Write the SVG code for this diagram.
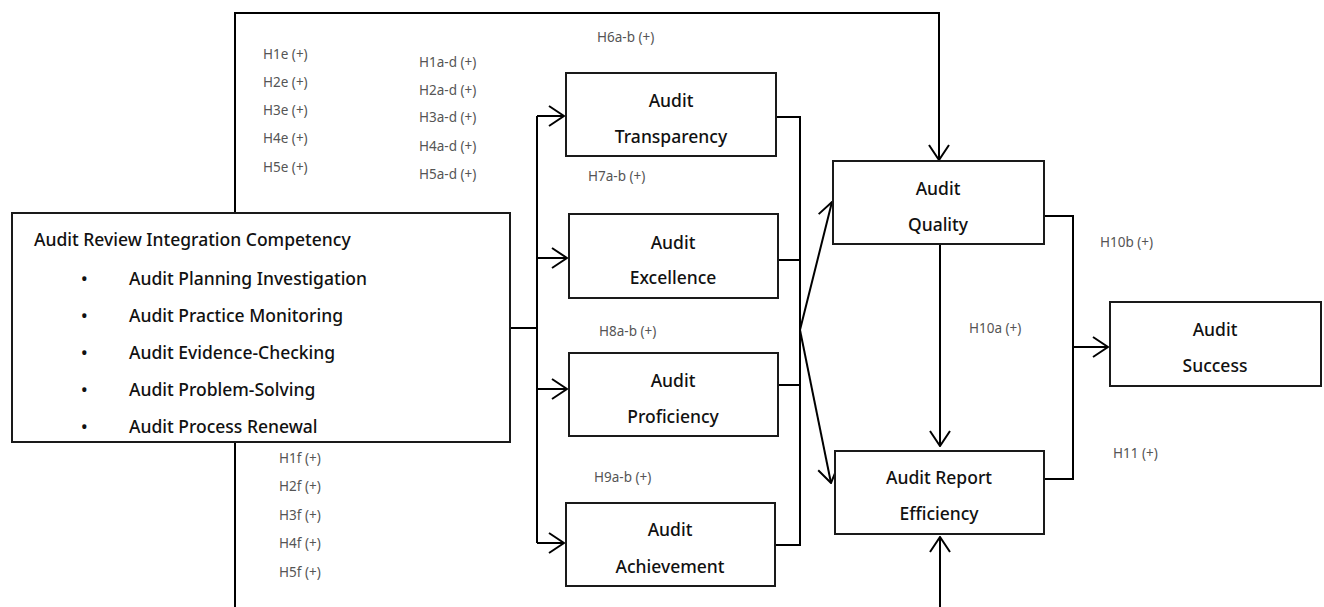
<svg xmlns="http://www.w3.org/2000/svg" width="1324" height="607" viewBox="0 0 1324 607">
<style>
.box{fill:#fff;stroke:#1a1a1a;stroke-width:2}
.nt{font-family:"Noto Sans","Liberation Sans",sans-serif;font-size:17.5px;font-weight:500;fill:#111;text-anchor:middle}
.bt{font-family:"Noto Sans","Liberation Sans",sans-serif;font-size:17.5px;font-weight:500;fill:#111}
.lb{font-family:"Noto Sans","Liberation Sans",sans-serif;font-size:13.5px;fill:#555}
.ln{fill:none;stroke:#000;stroke-width:2}
.ar{fill:none;stroke:#000;stroke-width:2;marker-end:url(#arr)}
</style>
<defs>
<marker id="arr" viewBox="0 0 17 22" refX="16" refY="11" markerWidth="17" markerHeight="22" orient="auto" markerUnits="userSpaceOnUse">
<path d="M1,1 L16,11 L1,21" fill="none" stroke="#000" stroke-width="2"/>
</marker>
</defs>
<rect width="1324" height="607" fill="#fff"/>
<g id="connectors">
<polyline class="ar" points="235,212 235,13 939,13 939,160"/>
<line class="ln" x1="235" y1="442" x2="235" y2="607"/>
<line class="ln" x1="510" y1="328" x2="537" y2="328"/>
<line class="ln" x1="537" y1="116" x2="537" y2="543"/>
<line class="ar" x1="537" y1="116" x2="564" y2="116"/>
<line class="ar" x1="537" y1="258" x2="567" y2="258"/>
<line class="ar" x1="537" y1="389" x2="567" y2="389"/>
<line class="ar" x1="537" y1="543" x2="564" y2="543"/>
<line class="ln" x1="776" y1="117" x2="800" y2="117"/>
<line class="ln" x1="778" y1="260" x2="800" y2="260"/>
<line class="ln" x1="778" y1="385" x2="800" y2="385"/>
<line class="ln" x1="775" y1="545" x2="800" y2="545"/>
<line class="ln" x1="800" y1="116" x2="800" y2="546"/>
<line class="ar" x1="800" y1="330" x2="832" y2="202"/>
<line class="ar" x1="800" y1="330" x2="831" y2="483"/>
<line class="ar" x1="940" y1="244" x2="940" y2="446"/>
<polyline class="ln" points="1044,216 1073,216 1073,479 1044,479"/>
<line class="ar" x1="1073" y1="347" x2="1108" y2="347"/>
<line class="ar" x1="940" y1="607" x2="940" y2="537"/>
</g>
<g id="labels">
<text class="lb" x="263" y="59">H1e (+)</text>
<text class="lb" x="263" y="87">H2e (+)</text>
<text class="lb" x="263" y="115">H3e (+)</text>
<text class="lb" x="263" y="143">H4e (+)</text>
<text class="lb" x="263" y="172">H5e (+)</text>
<text class="lb" x="419" y="67">H1a-d (+)</text>
<text class="lb" x="419" y="95">H2a-d (+)</text>
<text class="lb" x="419" y="122">H3a-d (+)</text>
<text class="lb" x="419" y="151">H4a-d (+)</text>
<text class="lb" x="419" y="179">H5a-d (+)</text>
<text class="lb" x="279" y="463">H1f (+)</text>
<text class="lb" x="279" y="491">H2f (+)</text>
<text class="lb" x="279" y="520">H3f (+)</text>
<text class="lb" x="279" y="548">H4f (+)</text>
<text class="lb" x="279" y="577">H5f (+)</text>
<text class="lb" x="597" y="42">H6a-b (+)</text>
<text class="lb" x="588" y="181">H7a-b (+)</text>
<text class="lb" x="599" y="336">H8a-b (+)</text>
<text class="lb" x="594" y="482">H9a-b (+)</text>
<text class="lb" x="969" y="333">H10a (+)</text>
<text class="lb" x="1100" y="247">H10b (+)</text>
<text class="lb" x="1113" y="458">H11 (+)</text>
</g>
<g id="node-aric">
<rect class="box" x="12" y="213" width="498" height="229"/>
<text class="bt" x="34" y="246">Audit Review Integration Competency</text>
<text class="bt" x="81" y="285">•</text>
<text class="bt" x="129" y="285">Audit Planning Investigation</text>
<text class="bt" x="81" y="322">•</text>
<text class="bt" x="129" y="322">Audit Practice Monitoring</text>
<text class="bt" x="81" y="359">•</text>
<text class="bt" x="129" y="359">Audit Evidence-Checking</text>
<text class="bt" x="81" y="396">•</text>
<text class="bt" x="129" y="396">Audit Problem-Solving</text>
<text class="bt" x="81" y="433">•</text>
<text class="bt" x="129" y="433">Audit Process Renewal</text>
</g>
<g id="node-transparency">
<rect class="box" x="566" y="73" width="210" height="83"/>
<text class="nt" x="671" y="107">Audit</text>
<text class="nt" x="671" y="143">Transparency</text>
</g>
<g id="node-excellence">
<rect class="box" x="569" y="214" width="209" height="84"/>
<text class="nt" x="673" y="249">Audit</text>
<text class="nt" x="673" y="284">Excellence</text>
</g>
<g id="node-proficiency">
<rect class="box" x="569" y="353" width="209" height="83"/>
<text class="nt" x="673" y="387">Audit</text>
<text class="nt" x="673" y="423">Proficiency</text>
</g>
<g id="node-achievement">
<rect class="box" x="566" y="503" width="209" height="83"/>
<text class="nt" x="670" y="536">Audit</text>
<text class="nt" x="670" y="573">Achievement</text>
</g>
<g id="node-quality">
<rect class="box" x="833" y="161" width="211" height="83"/>
<text class="nt" x="938" y="195">Audit</text>
<text class="nt" x="938" y="231">Quality</text>
</g>
<g id="node-efficiency">
<rect class="box" x="835" y="451" width="209" height="83"/>
<text class="nt" x="939" y="484">Audit Report</text>
<text class="nt" x="939" y="520">Efficiency</text>
</g>
<g id="node-success">
<rect class="box" x="1110" y="302" width="211" height="84"/>
<text class="nt" x="1215" y="336">Audit</text>
<text class="nt" x="1215" y="372">Success</text>
</g>
</svg>
